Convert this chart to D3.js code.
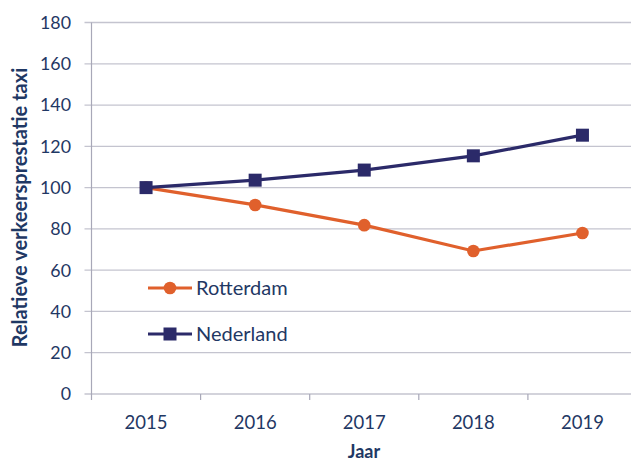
<!DOCTYPE html>
<html><head><meta charset="utf-8">
<script src="https://cdn.jsdelivr.net/npm/d3@7"></script>
<style>body{margin:0;background:#fff}svg{display:block}text{font-family:Lato,"Open Sans",sans-serif}</style>
</head><body><svg id="c" width="631" height="461"></svg>
<script>
const years = ["2015","2016","2017","2018","2019"];
const rotterdam = [100, 91.6, 81.8, 69.3, 78.0];
const nederland = [100, 103.6, 108.5, 115.4, 125.4];
const yTicks = [0,20,40,60,80,100,120,140,160,180];
const seriesNames = ["Rotterdam","Nederland"];

const svg = d3.select("#c");
const L = 91.5, R = 637, T = 22.5, B = 394;
const textCol = "#1f3864";
const x = d3.scaleBand().domain(years).range([L, R]);
const y = d3.scaleLinear().domain([0,180]).range([B, T]);

// gridlines
svg.append("g").selectAll("line").data(yTicks).join("line")
  .attr("x1", L-7).attr("x2", R).attr("y1", d=>y(d)).attr("y2", d=>y(d))
  .attr("stroke", "#c4c4cf").attr("stroke-width", 1.3);
// y axis line
svg.append("line").attr("x1", L).attr("x2", L).attr("y1", T).attr("y2", B+6)
  .attr("stroke", "#a8a8b8").attr("stroke-width", 1.2);
// x ticks
svg.append("g").selectAll("line").data(years.slice(1)).join("line")
  .attr("x1", d=>x(d)).attr("x2", d=>x(d)).attr("y1", B).attr("y2", B+6)
  .attr("stroke", "#a8a8b8").attr("stroke-width", 1.2);
// y labels
svg.append("g").selectAll("text").data(yTicks).join("text")
  .attr("x", 71).attr("y", d=>y(d)).attr("dy","0.36em").attr("text-anchor","end")
  .attr("font-size", 17.8).attr("fill", textCol).text(d=>d);
// x labels
svg.append("g").selectAll("text").data(years).join("text")
  .attr("x", d=>x(d)+x.bandwidth()/2).attr("y", 422).attr("dy","0.36em").attr("text-anchor","middle")
  .attr("font-size", 18.5).attr("fill", textCol).text(d=>d);
// axis titles
svg.append("text").attr("x", 364).attr("y", 452).attr("dy","0.36em").attr("text-anchor","middle")
  .attr("font-size", 18).attr("font-weight","bold").attr("fill", textCol).text("Jaar");
svg.append("text").attr("transform","translate(20,207.5) rotate(-90)").attr("dy","0.36em").attr("text-anchor","middle")
  .attr("font-size", 20).attr("font-weight","bold").attr("fill", textCol).text("Relatieve verkeersprestatie taxi");

const cx = d => x(d) + x.bandwidth()/2;
const colors = {Rotterdam:"#e0602c", Nederland:"#2b2a69"};
const line = d3.line().x((d,i)=>cx(years[i])).y(d=>y(d));

// Rotterdam
svg.append("path").datum(rotterdam).attr("d", line).attr("fill","none")
  .attr("stroke", colors.Rotterdam).attr("stroke-width", 3.2);
svg.append("g").selectAll("circle").data(rotterdam).join("circle")
  .attr("cx", (d,i)=>cx(years[i])).attr("cy", d=>y(d)).attr("r", 6.3).attr("fill", colors.Rotterdam);
// Nederland
svg.append("path").datum(nederland).attr("d", line).attr("fill","none")
  .attr("stroke", colors.Nederland).attr("stroke-width", 3.2);
svg.append("g").selectAll("rect").data(nederland).join("rect")
  .attr("x", (d,i)=>cx(years[i])-6.5).attr("y", d=>y(d)-6.5).attr("width", 13).attr("height", 13)
  .attr("fill", colors.Nederland);

// legend
const lg = svg.append("g");
[["Rotterdam",288],["Nederland",334]].forEach(([name, ly]) => {
  lg.append("line").attr("x1",148).attr("x2",192).attr("y1",ly).attr("y2",ly)
    .attr("stroke", colors[name]).attr("stroke-width", 3.2);
  if (name === "Rotterdam") lg.append("circle").attr("cx",170).attr("cy",ly).attr("r",6.3).attr("fill",colors[name]);
  else lg.append("rect").attr("x",163.5).attr("y",ly-6.5).attr("width",13).attr("height",13).attr("fill",colors[name]);
  lg.append("text").attr("x",196).attr("y",ly).attr("dy","0.36em").attr("font-size",20)
    .attr("fill", textCol).text(name);
});
</script></body></html>
